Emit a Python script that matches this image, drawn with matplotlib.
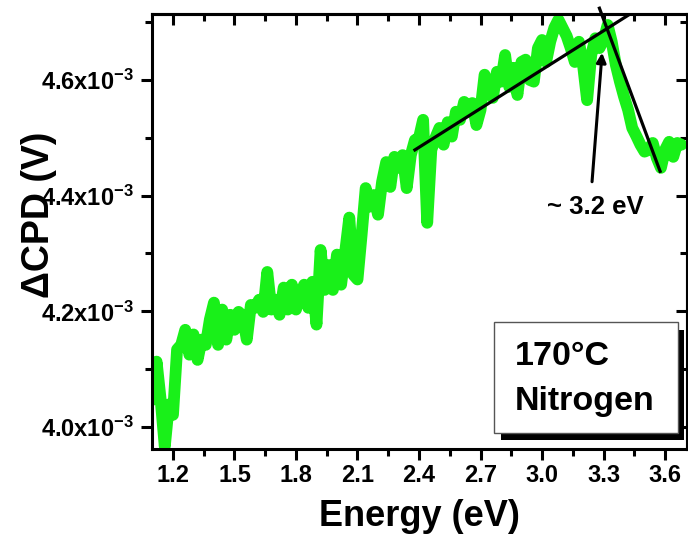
import numpy as np
import matplotlib
matplotlib.use("Agg")
import matplotlib.pyplot as plt
from matplotlib.patches import Rectangle
from matplotlib.ticker import MultipleLocator, FuncFormatter, FormatStrFormatter

# ----------------------------
# DATA
# ----------------------------
# photon energy scan, 0.02 eV steps
energy = np.round(np.arange(1.10, 3.685, 0.02), 2)

# delta CPD in units of 1e-3 V
dcpd_mv = [
    4.047, 4.113, 4.047, 3.966, 4.039, 4.021, 4.134, 4.142, 4.168, 4.125,
    4.160, 4.116, 4.151, 4.142, 4.186, 4.215, 4.142, 4.203, 4.151, 4.194,
    4.168, 4.199, 4.192, 4.151, 4.211, 4.206, 4.220, 4.199, 4.268, 4.203,
    4.220, 4.194, 4.241, 4.203, 4.246, 4.203, 4.229, 4.246, 4.206, 4.251,
    4.177, 4.306, 4.237, 4.280, 4.237, 4.298, 4.246, 4.303, 4.362, 4.263,
    4.255, 4.332, 4.413, 4.381, 4.401, 4.367, 4.424, 4.458, 4.415, 4.467,
    4.448, 4.470, 4.413, 4.470, 4.496, 4.500, 4.531, 4.353, 4.479, 4.500,
    4.517, 4.488, 4.527, 4.502, 4.545, 4.531, 4.562, 4.545, 4.560, 4.522,
    4.548, 4.609, 4.591, 4.569, 4.614, 4.597, 4.643, 4.588, 4.621, 4.574,
    4.631, 4.635, 4.600, 4.597, 4.655, 4.669, 4.631, 4.666, 4.690, 4.704,
    4.690, 4.676, 4.655, 4.631, 4.666, 4.626, 4.565, 4.643, 4.672, 4.655,
    4.669, 4.695, 4.666, 4.626, 4.597, 4.571, 4.548, 4.517, 4.503, 4.488,
    4.476, 4.479, 4.491, 4.465, 4.448, 4.479, 4.493, 4.467, 4.491, 4.488,
]

# linear fits (eV, 1e-3 V)
fit_rise_x = [2.38, 3.43]
fit_rise_y = [4.479, 4.714]
fit_fall_x = [3.28, 3.576]
fit_fall_y = [4.724, 4.442]

# arrow to the intersection
arrow_tail = (3.244, 4.424)
arrow_head = (3.293, 4.647)
onset_label = "~ 3.2 eV"
onset_pos = (3.262, 4.381)

box_lines = ["170°C", "Nitrogen"]

# ----------------------------
# STYLE
# ----------------------------
plt.rcParams['font.family'] = ['Liberation Sans', 'DejaVu Sans']
plt.rcParams['font.weight'] = 'bold'
plt.rcParams['axes.labelweight'] = 'bold'
plt.rcParams['mathtext.fontset'] = 'custom'
plt.rcParams['mathtext.rm'] = 'Liberation Sans:bold'
plt.rcParams['mathtext.it'] = 'Liberation Sans:bold'
plt.rcParams['mathtext.bf'] = 'Liberation Sans:bold'
plt.rcParams['mathtext.default'] = 'rm'

GREEN = '#19f019'
LW_AX = 2.2

fig = plt.figure(figsize=(6.88, 5.48), dpi=100)
ax = fig.add_axes([0.2209, 0.1807, 0.7776, 0.7938])

y = np.array(dcpd_mv) * 1e-3
ax.plot(energy, y, color=GREEN, lw=8.5, solid_joinstyle='round',
        solid_capstyle='round', zorder=2)

ax.plot(fit_rise_x, np.array(fit_rise_y) * 1e-3, color='k', lw=2.3, zorder=3)
ax.plot(fit_fall_x, np.array(fit_fall_y) * 1e-3, color='k', lw=2.3, zorder=3,
        clip_on=False)

ax.annotate('', xy=(arrow_head[0], arrow_head[1] * 1e-3),
            xytext=(arrow_tail[0], arrow_tail[1] * 1e-3),
            arrowprops=dict(arrowstyle='-|>', lw=2.2, color='k',
                            mutation_scale=14, shrinkA=0, shrinkB=0))
ax.text(onset_pos[0], onset_pos[1] * 1e-3, onset_label, fontsize=18.5,
        ha='center', va='center')

ax.set_xlim(1.0976, 3.707)
ax.set_ylim(3.962e-3, 4.714e-3)

ax.xaxis.set_major_locator(MultipleLocator(0.3))
ax.xaxis.set_minor_locator(MultipleLocator(0.15))
ax.xaxis.set_major_formatter(FormatStrFormatter('%.1f'))
ax.yaxis.set_major_locator(MultipleLocator(0.2e-3))
ax.yaxis.set_minor_locator(MultipleLocator(0.1e-3))
ax.yaxis.set_major_formatter(
    FuncFormatter(lambda v, p: f"{v * 1e3:.1f}x10$^{{-3}}$"))

ax.tick_params(which='both', direction='out', width=LW_AX, labelsize=17,
               top=False, right=False)
ax.tick_params(which='major', length=8)
ax.tick_params(which='minor', length=5)
ax.tick_params(axis='x', pad=3)
ax.tick_params(axis='y', pad=5)
for s in ax.spines.values():
    s.set_linewidth(LW_AX)

# mirrored ticks pointing inward on top and right
top = ax.secondary_xaxis('top')
top.xaxis.set_major_locator(MultipleLocator(0.3))
top.xaxis.set_minor_locator(MultipleLocator(0.15))
top.tick_params(which='both', direction='in', width=LW_AX, labeltop=False)
top.tick_params(which='major', length=8)
top.tick_params(which='minor', length=5)
top.spines['top'].set_linewidth(LW_AX)
right = ax.secondary_yaxis('right')
right.yaxis.set_major_locator(MultipleLocator(0.2e-3))
right.yaxis.set_minor_locator(MultipleLocator(0.1e-3))
right.tick_params(which='both', direction='in', width=LW_AX, labelright=False)
right.tick_params(which='major', length=8)
right.tick_params(which='minor', length=5)
right.spines['right'].set_linewidth(LW_AX)

ax.set_xlabel("Energy (eV)", fontsize=26, fontweight='bold')
ax.xaxis.set_label_coords(0.50, -0.115)
ax.set_ylabel("ΔCPD (V)", fontsize=27, fontweight='bold')
ax.yaxis.set_label_coords(-0.178, 0.538)

# label box with drop shadow
ax.add_patch(Rectangle((0.652, 0.0207), 0.342, 0.253, transform=ax.transAxes,
                       facecolor='k', edgecolor='none', zorder=4))
ax.add_patch(Rectangle((0.639, 0.0368), 0.344, 0.255, transform=ax.transAxes,
                       facecolor='white', edgecolor='#555555', lw=1.0, zorder=5))
ax.text(0.6785, 0.193, box_lines[0], transform=ax.transAxes, fontsize=24.5,
        fontweight='bold', va='baseline', ha='left', zorder=6)
ax.text(0.6785, 0.0897, box_lines[1], transform=ax.transAxes, fontsize=24.5,
        fontweight='bold', va='baseline', ha='left', zorder=6)

plt.savefig("out.png", dpi=100)
